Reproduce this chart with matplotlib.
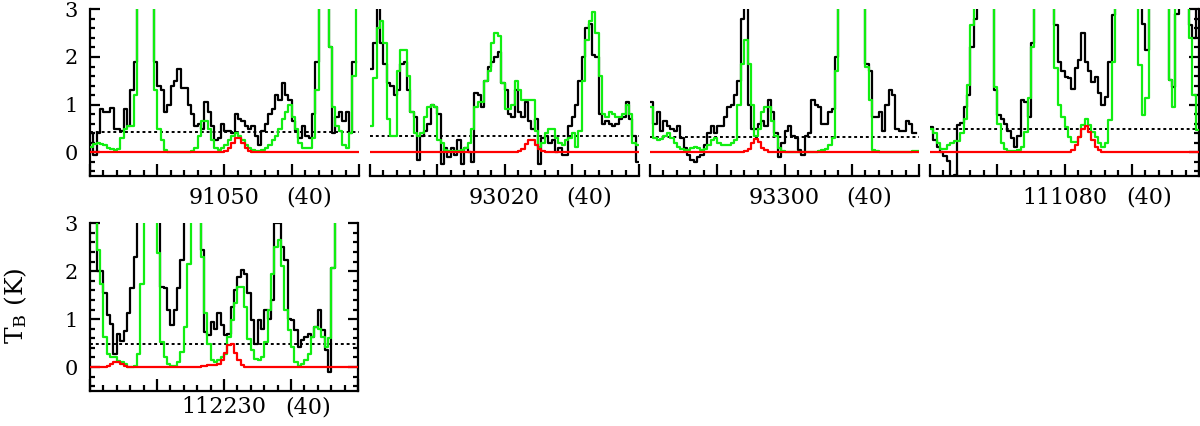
import numpy as np
import matplotlib
matplotlib.use('Agg')
import matplotlib.pyplot as plt
from matplotlib.ticker import MultipleLocator

nan = np.nan
plt.rcParams['font.family'] = 'DejaVu Serif'
plt.rcParams['mathtext.fontset'] = 'dejavuserif'

# panel labels: frequency (MHz) and the number in brackets
freqs = ['91050', '93020', '93300', '111080', '112230']
tags = ['(40)', '(40)', '(40)', '(40)', '(40)']
# 3 sigma level (dotted line) per panel
sigma3 = [0.43, 0.34, 0.32, 0.50, 0.49]

# observed spectra (black), 80 channels per panel
obs_91050 = [0.4, -0.05, 0.4, 0.9, 0.85, 0.85, 0.93, 0.5, 0.5, 0.45,
             0.9, 0.55, 1.3, 1.9, 3.5, 3.5, 3.5, 3.5, 3.5, 1.9,
             1.4, 1.3, 0.85, 1.0, 1.4, 1.5, 1.75, 1.35, 1.35, 1.0,
             0.8, 0.55, 0.6, 0.5, 1.05, 0.85, 0.55, 0.25, 0.3, 0.6,
             0.45, 0.45, 0.4, 0.8, 0.7, 0.65, 0.55, 0.5, 0.55, 0.35,
             0.15, 0.45, 0.6, 0.8, 0.9, 1.2, 1.1, 1.45, 1.2, 1.1,
             0.65, 0.45, 0.3, 0.55, 0.35, 0.3, 0.8, 1.9, 3.5, 3.5,
             3.5, 2.2, 0.4, 0.75, 0.85, 0.65, 0.85, 0.4, 1.9, nan]
obs_93020 = [1.75, 2.3, 3.3, 2.3, 1.85, 1.45, 1.4, 1.2, 1.3, 1.85,
             1.9, 1.3, 0.85, 0.75, -0.15, 0.35, 0.45, 0.6, 1.0, 0.95,
             0.8, -0.25, 0.1, -0.1, 0.1, -0.05, 0.25, -0.25, 0.1, 0.0,
             -0.2, 1.25, 1.2, 0.95, 1.5, 1.8, 1.9, 2.0, 2.1, 1.45,
             1.3, 0.8, 0.75, 1.3, 0.85, 0.75, 1.05, 0.65, 0.5, 0.7,
             -0.25, 0.3, 0.35, 0.2, 0.25, 0.0, 0.1, -0.05, -0.05, 0.55,
             0.75, 1.0, 1.5, 2.0, 2.6, 2.7, 2.05, 2.0, 0.8, 0.6,
             0.65, 0.6, 0.55, 0.6, 0.7, 0.75, 1.05, 0.7, 0.35, -0.2]
obs_93300 = [1.05, 0.6, 0.85, 0.45, 0.65, 0.55, 0.5, 0.45, 0.55, 0.3,
             0.1, -0.05, -0.15, -0.2, -0.1, -0.05, 0.15, 0.4, 0.55, 0.4,
             0.55, 0.55, 0.75, 0.95, 1.0, 1.2, 1.5, 2.8, 3.5, 1.0,
             0.5, 0.5, 0.6, 0.65, 0.55, 1.1, 0.85, 0.4, -0.1, 0.2,
             0.45, 0.55, 0.35, 0.3, 0.05, -0.05, 0.35, 0.4, 1.1, 1.0,
             0.95, 0.6, 0.6, 0.85, 0.9, 2.0, 3.5, 3.5, 3.5, 3.5,
             3.5, 3.5, 3.5, 3.5, 1.85, 1.7, 0.75, 0.75, 0.85, 0.45,
             1.0, 1.3, 1.2, 0.5, 0.45, 0.45, 0.65, 0.6, 0.4, nan]
obs_111080 = [0.54, 0.25, 0.12, 0.01, -0.08, -0.18, -0.6, -0.48, 0.57, 0.61,
              0.96, 1.2, 2.2, 2.8, 3.5, 3.5, 3.5, 3.5, 3.5, 1.3,
              0.78, 0.7, 0.6, 0.45, 0.3, 0.12, 0.35, 1.1, 1.05, 0.75,
              2.3, 3.5, 3.5, 3.5, 3.5, 3.5, 3.5, 2.67, 1.9, 1.7,
              1.59, 1.55, 1.32, 1.76, 1.94, 2.5, 1.9, 1.7, 1.48, 1.59,
              1.24, 0.99, 1.17, 1.9, 2.88, 3.5, 3.5, 3.5, 3.5, 3.5,
              3.5, 3.5, 3.5, 2.7, 2.15, 3.5, 3.5, 3.5, 3.5, 3.5,
              3.5, 1.52, 1.38, 2.9, 3.5, 3.5, 3.5, 2.67, 2.4, 3.5]
obs_112230 = [3.5, 3.5, 2.0, 2.0, 1.54, 1.08, 0.9, 0.28, 0.7, 0.55,
              0.75, 1.12, 1.64, 2.3, 3.5, 3.5, 3.5, 3.5, 3.5, 3.5,
              3.5, 1.67, 1.64, 1.19, 0.87, 1.19, 1.64, 2.23, 3.5, 3.5,
              3.5, 3.5, 3.5, 2.44, 0.73, 0.66, 0.94, 0.8, 1.12, 0.87,
              0.66, 0.7, 1.26, 1.6, 1.88, 2.02, 1.95, 1.54, 0.98, 0.49,
              0.98, 0.8, 1.19, 1.01, 1.4, 3.0, 3.0, 2.5, 2.23, 1.01,
              0.98, 0.77, 0.42, 0.56, 0.63, 0.7, 0.63, 0.84, 1.19, 0.77,
              0.35, -0.1, 2.06, 3.5, nan, nan, nan, nan, nan, nan]

# full model, all molecules (green)
all_91050 = [0.12, 0.18, 0.2, 0.18, 0.15, 0.1, 0.06, 0.05, 0.08, 0.3,
             0.5, 0.55, 0.55, 1.2, 3.5, 3.5, 3.5, 3.5, 3.5, 1.3,
             0.5, 0.25, 0.05, 0.0, 0.0, 0.0, 0.0, 0.0, 0.0, 0.0,
             0.03, 0.1, 0.35, 0.65, 0.65, 0.5, 0.25, 0.1, 0.05, 0.1,
             0.15, 0.25, 0.35, 0.4, 0.35, 0.25, 0.15, 0.1, 0.05, 0.03,
             0.02, 0.05, 0.1, 0.15, 0.25, 0.35, 0.5, 0.7, 0.85, 1.0,
             0.75, 0.5, 0.2, 0.1, 0.1, 0.1, 0.3, 1.3, 3.5, 3.5,
             3.5, 2.2, 0.95, 0.55, 0.45, 0.15, 0.1, 0.4, 1.6, 3.5]
all_93020 = [0.55, 1.55, 2.6, 2.75, 2.3, 0.7, 0.35, 0.35, 1.7, 2.15,
             2.15, 1.6, 0.85, 0.4, 0.35, 0.4, 0.75, 0.95, 1.0, 0.95,
             0.25, 0.2, 0.05, 0.02, 0.02, 0.02, 0.03, 0.05, 0.1, 0.2,
             0.5, 0.95, 1.05, 1.05, 1.5, 1.7, 2.3, 2.5, 2.45, 1.45,
             0.9, 0.9, 1.0, 1.5, 1.3, 1.1, 1.1, 1.1, 1.1, 0.45,
             0.12, 0.2, 0.4, 0.5, 0.5, 0.3, 0.2, 0.15, 0.25, 0.3,
             0.4, 0.12, 0.45, 1.5, 2.35, 2.75, 2.95, 2.5, 1.6, 0.8,
             0.75, 0.85, 0.8, 0.75, 0.75, 0.8, 1.0, 0.8, 0.2, 0.15]
all_93300 = [0.95, 0.3, 0.25, 0.28, 0.35, 0.4, 0.3, 0.2, 0.12, 0.08,
             0.05, 0.05, 0.1, 0.12, 0.1, 0.05, 0.08, 0.15, 0.25, 0.3,
             0.2, 0.15, 0.15, 0.15, 0.2, 0.25, 1.0, 1.85, 2.35, 1.85,
             1.0, 0.35, 0.5, 0.85, 0.95, 0.95, 0.65, 0.35, 0.1, 0.02,
             0.0, 0.0, 0.0, 0.0, 0.0, 0.0, 0.0, 0.0, 0.01, 0.01,
             0.03, 0.05, 0.08, 0.15, 0.3, 1.7, 3.5, 3.5, 3.5, 3.5,
             3.5, 3.5, 3.5, 3.5, 1.8, 1.1, 0.05, 0.02, 0.0, 0.0,
             0.0, 0.0, 0.0, 0.0, 0.0, 0.0, 0.01, 0.01, 0.02, 0.03]
all_111080 = [0.5, 0.4, 0.2, 0.08, 0.08, 0.15, 0.19, 0.24, 0.24, 0.4,
              0.71, 1.41, 2.67, 3.5, 3.5, 3.5, 3.5, 3.5, 3.5, 1.38,
              0.6, 0.19, 0.08, 0.03, 0.03, 0.03, 0.05, 0.12, 0.43, 1.13,
              2.2, 3.5, 3.5, 3.5, 3.5, 3.5, 3.5, 1.76, 1.0, 0.75,
              0.54, 0.33, 0.22, 0.22, 0.33, 0.57, 0.69, 0.57, 0.43, 0.33,
              0.19, 0.12, 0.19, 0.68, 1.9, 3.5, 3.5, 3.5, 3.5, 3.5,
              3.5, 3.5, 1.83, 0.78, 1.13, 3.5, 3.5, 3.5, 3.5, 3.5,
              3.5, 1.52, 0.96, 3.5, 3.5, 3.5, 3.5, 2.4, 1.2, 0.47]
all_112230 = [3.5, 3.5, 2.44, 1.74, 0.63, 0.28, 0.21, 0.2, 0.13, 0.1,
              0.06, 0.01, 0.01, 0.03, 0.28, 1.74, 3.5, 3.5, 3.5, 3.5,
              2.37, 0.52, 0.21, 0.07, 0.03, 0.03, 0.1, 0.31, 0.84, 2.16,
              3.5, 3.5, 3.5, 2.3, 1.12, 0.49, 0.14, 0.1, 0.14, 0.21,
              0.28, 0.63, 0.98, 1.33, 1.67, 1.67, 1.26, 0.59, 0.35, 0.17,
              0.14, 0.21, 0.52, 1.19, 1.95, 2.5, 2.65, 2.1, 1.19, 0.77,
              0.42, 0.1, 0.03, 0.07, 0.14, 0.28, 0.63, 0.84, 0.8, 0.63,
              0.42, 0.6, 2.06, 3.5, nan, nan, nan, nan, nan, nan]

# model of the molecule alone (red)
mol_91050 = [0.0] * 40 + [0.03, 0.1, 0.2, 0.3, 0.3, 0.2, 0.1, 0.03] + [0.0] * 32
mol_93020 = [0.0] * 44 + [0.03, 0.08, 0.18, 0.25, 0.25, 0.15, 0.06, 0.02] + [0.0] * 28
mol_93300 = [0.0] * 28 + [0.02, 0.08, 0.2, 0.27, 0.22, 0.1, 0.04, 0.01] + [0.0] * 44
mol_111080 = [0.0] * 42 + [0.05, 0.15, 0.33, 0.5, 0.55, 0.43, 0.26, 0.12, 0.05, 0.01] + [0.0] * 28
mol_112230 = ([0.0] * 5 + [0.02, 0.06, 0.1, 0.1, 0.06, 0.03, 0.01] + [0.0] * 20
              + [0.01, 0.02, 0.03, 0.04, 0.04, 0.05, 0.07, 0.15, 0.3, 0.45, 0.48, 0.3, 0.15, 0.05, 0.01]
              + [0.0] * 33)

observed = [obs_91050, obs_93020, obs_93300, obs_111080, obs_112230]
full_model = [all_91050, all_93020, all_93300, all_111080, all_112230]
mol_model = [mol_91050, mol_93020, mol_93300, mol_111080, mol_112230]

edges = np.linspace(-40, 40, 81)

W, H = 1200, 426
fig = plt.figure(figsize=(12, 4.26), dpi=100)

# panel boxes in pixels: (left, top, right, bottom)
boxes = [(90, 9.3, 359, 176.2), (370, 9.3, 639, 176.2), (650, 9.3, 919, 176.2),
         (930, 9.3, 1199, 176.2), (90, 223.3, 358, 391)]
label_y = [-0.13, -0.13, -0.13, -0.13, -0.097]


def draw_steps(ax, vals, color, lw, z):
    v = np.asarray(vals, dtype=float)
    ax.step(edges, np.append(v, v[-1]), where='post', color=color, lw=lw, zorder=z)


for i in range(5):
    l, t, r, b = boxes[i]
    ax = fig.add_axes([l / W, 1 - b / H, (r - l) / W, (b - t) / H])
    ax.set_xlim(-40, 40)
    ax.set_ylim(-0.5, 3)

    draw_steps(ax, observed[i], 'black', 1.6, 2)
    ax.axhline(sigma3[i], color='black', lw=1.4, dashes=(1.5, 1.5), zorder=3)
    draw_steps(ax, full_model[i], '#11ee11', 1.6, 4)
    draw_steps(ax, mol_model[i], '#ff0000', 1.6, 5)

    ax.xaxis.set_major_locator(MultipleLocator(20))
    ax.xaxis.set_minor_locator(MultipleLocator(4))
    ax.yaxis.set_major_locator(MultipleLocator(1))
    ax.yaxis.set_minor_locator(MultipleLocator(0.2))

    for s in ax.spines.values():
        s.set_linewidth(1.6)
    ax.spines['top'].set_visible(False)
    has_left = i in (0, 4)
    has_right = i in (3, 4)
    ax.spines['left'].set_visible(has_left)
    ax.spines['right'].set_visible(has_right)

    ax.tick_params(axis='both', which='both', direction='in', width=1.6,
                   top=False, labelbottom=False, labelsize=15)
    ax.tick_params(axis='x', which='major', length=9)
    ax.tick_params(axis='x', which='minor', length=4.5)
    ax.tick_params(axis='y', which='major', length=7, left=has_left, right=has_right,
                   labelleft=has_left, pad=9)
    ax.tick_params(axis='y', which='minor', length=3.5, left=has_left, right=has_right)

    ax.text(0.5, label_y[i], freqs[i], transform=ax.transAxes, ha='center',
            va='center', fontsize=16)
    ax.text(0.815, label_y[i], tags[i], transform=ax.transAxes, ha='center',
            va='center', fontsize=16)

fig.text(16 / W, 1 - 306 / H, r'T$_{\mathrm{B}}$ (K)', rotation=90,
         ha='center', va='center', fontsize=18)

fig.savefig('out.png', dpi=100)
